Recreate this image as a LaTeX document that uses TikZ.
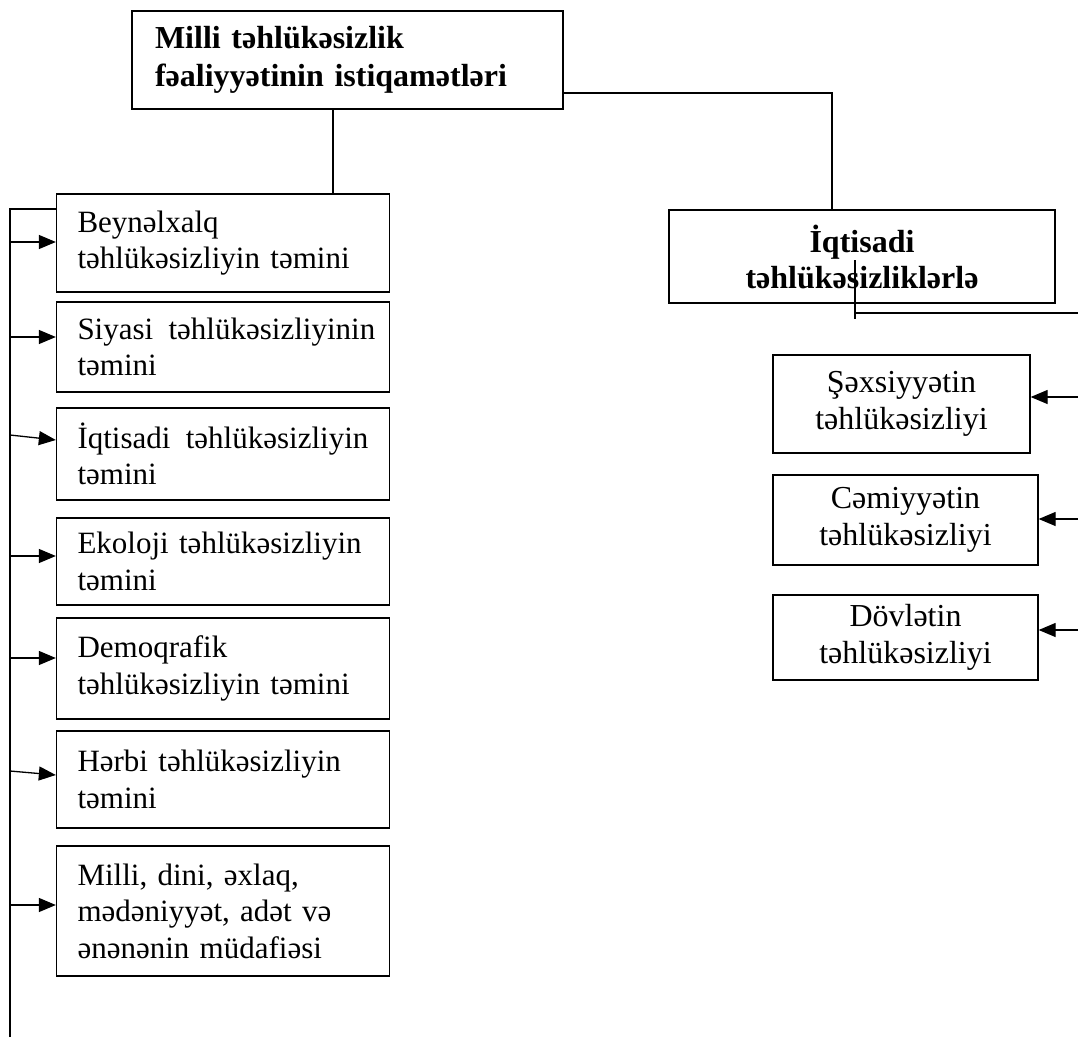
\documentclass[tikz,border=0pt]{standalone}
\usepackage{fontspec}
\setmainfont{Liberation Serif}
\usetikzlibrary{arrows.meta}
\newcommand{\jline}[2][291pt]{\makebox[#1][s]{#2}}
\begin{document}
\begin{tikzpicture}[x=1pt,y=-1pt,
  box/.style={draw, line width=1.3pt, rectangle, inner sep=0pt, font=\fontsize{31}{36.5}\selectfont},
  lbox/.style={box, align=left, text width=291pt, minimum width=333pt, inner xsep=21pt},
  rbox/.style={box, align=center, font=\fontsize{32}{37}\selectfont},
  conn/.style={line width=1.3pt},
  arr/.style={line width=1.3pt, -{Triangle[length=17pt,width=14pt]}}]
\useasboundingbox (0,0) rectangle (1078,1038);
\hyphenpenalty=10000
% top box
\node[box, font=\fontsize{32}{38}\selectfont\bfseries, align=left, text width=385pt, inner xsep=23pt, minimum height=98pt] (tb) at (347.5,60) {Milli təhlükəsizlik\\fəaliyyətinin istiqamətləri};
% left boxes
\node[lbox, minimum height=98pt] (b1) at (223,243) {\mbox{Beynəlxalq}\\\mbox{təhlükəsizliyin təmini}};
\node[lbox, minimum height=90pt] (b2) at (223,347) {\jline[297pt]{Siyasi\hspace{5pt} təhlükəsizliyinin}\\təmini};
\node[lbox, minimum height=92pt] (b3) at (223,454) {\jline[292pt]{İqtisadi\hspace{5pt} təhlükəsizliyin}\\təmini};
\node[lbox, minimum height=87pt] (b4) at (223,561.5) {\mbox{Ekoloji təhlükəsizliyin}\\təmini};
\node[lbox, minimum height=101pt] (b5) at (223,668.5) {Demoqrafik\\\mbox{təhlükəsizliyin təmini}};
\node[lbox, minimum height=97pt] (b6) at (223,779.5) {\mbox{Hərbi təhlükəsizliyin}\\təmini};
\node[lbox, minimum height=130pt] (b7) at (223,911) {\mbox{Milli, dini, əxlaq,}\\\mbox{mədəniyyət, adət və}\\\mbox{ənənənin müdafiəsi}};
% right side
\node[rbox, font=\fontsize{32}{36}\selectfont\bfseries, minimum width=386pt, minimum height=93pt] (ib) at (862,256.5) {İqtisadi\\təhlükəsizliklərlə};
\node[rbox, minimum width=257pt, minimum height=98pt] (r1) at (901.5,404) {Şəxsiyyətin\\təhlükəsizliyi};
\node[rbox, minimum width=265pt, minimum height=90pt] (r2) at (905.5,520) {Cəmiyyətin\\təhlükəsizliyi};
\node[rbox, minimum width=265pt, minimum height=85pt] (r3) at (905.5,637.5) {Dövlətin\\təhlükəsizliyi};
% connectors top
\draw[conn] ([xshift=-14.5pt]tb.south) -- ([xshift=-14.5pt]tb.south |- b1.north);
\draw[conn] ([yshift=-33pt]tb.east) -| ([xshift=-30pt]ib.north);
% left trunk
\coordinate (ttop) at (10,209);
\coordinate (tbot) at (10,1037);
\draw[conn] (tbot) -- (ttop) -- (ttop -| b1.west);
\coordinate (t1) at (10,242);
\coordinate (t2) at (10,337);
\coordinate (t3) at (10,435);
\coordinate (t4) at (10,556);
\coordinate (t5) at (10,658);
\coordinate (t6) at (10,771);
\coordinate (t7) at (10,905);
\draw[arr] (t1) -- (t1 -| b1.west);
\draw[arr] (t2) -- (t2 -| b2.west);
\draw[arr] (t3) -- ([yshift=14pt]b3.west);
\draw[arr] (t4) -- (t4 -| b4.west);
\draw[arr] (t5) -- (t5 -| b5.west);
\draw[arr] (t6) -- ([yshift=4.5pt]b6.west);
\draw[arr] (t7) -- (t7 -| b7.west);
% right connectors
\coordinate (ic) at (855,260);
\coordinate (ie) at (855,319);
\coordinate (ir) at (1078,313);
\draw[conn] (ic) -- (ie);
\draw[conn] (ic |- ir) -- (ir);
\coordinate (q1) at (1078,397);
\coordinate (q2) at (1078,519);
\coordinate (q3) at (1078,630);
\draw[arr] (q1) -- (q1 -| r1.east);
\draw[arr] (q2) -- (q2 -| r2.east);
\draw[arr] (q3) -- (q3 -| r3.east);
\end{tikzpicture}
\end{document}
